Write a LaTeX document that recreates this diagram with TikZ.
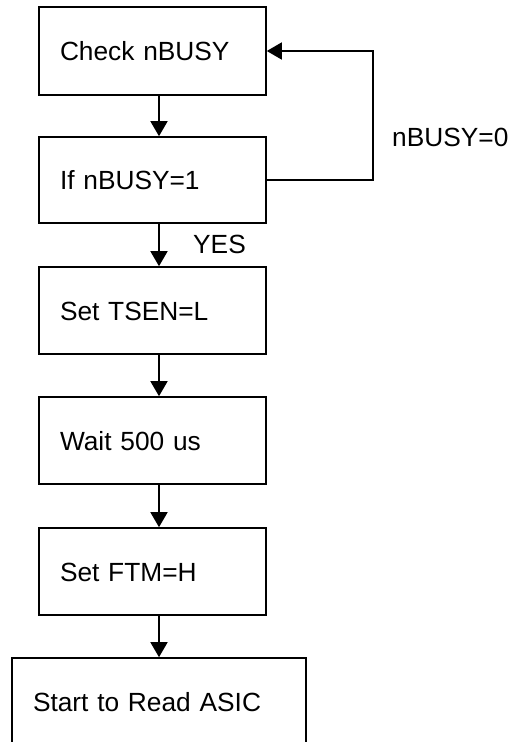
\documentclass[tikz,border=0pt]{standalone}
\usepackage{fontspec}
\setmainfont{Liberation Sans}
\usetikzlibrary{arrows.meta}
\begin{document}
\begin{tikzpicture}[x=1pt,y=-1pt,
  stepbox/.style={draw, line width=1.6pt, text width=185pt, align=left,
    inner xsep=21pt, inner ysep=0pt, minimum width=227pt, minimum height=87pt,
    text height=19pt, text depth=0pt, font=\fontsize{26.3pt}{30pt}\selectfont},
  lbl/.style={anchor=west, inner sep=0pt, text height=19pt, text depth=0pt,
    font=\fontsize{26.3pt}{30pt}\selectfont},
  arr/.style={line width=1.6pt, -{Triangle[width=17pt,length=15pt]}}]
\useasboundingbox (0,0) rectangle (515,742);
\fill[white] (0,0) rectangle (515,742);
\node[stepbox, minimum height=88pt] (b1) at (152.5,51) {Check nBUSY};
\node[stepbox, minimum height=86pt] (b2) at (152.5,180) {If nBUSY=1};
\node[stepbox] (b3) at (152.5,310.5) {Set TSEN=L};
\node[stepbox] (b4) at (152.5,440.5) {Wait 500 us};
\node[stepbox] (b5) at (152.5,571.5) {Set FTM=H};
\node[stepbox, text width=252pt, minimum width=294pt, minimum height=88pt] (b6) at (159,702) {Start to Read ASIC};
\coordinate (lp) at (373,0);
\draw[arr] (b1.south -| b6.north) -- (b2.north -| b6.north);
\draw[arr] (b2.south -| b6.north) -- (b3.north -| b6.north);
\draw[arr] (b3.south -| b6.north) -- (b4.north -| b6.north);
\draw[arr] (b4.south -| b6.north) -- (b5.north -| b6.north);
\draw[arr] (b5.south -| b6.north) -- (b6.north);
\draw[arr] (b2.east) -- (b2.east -| lp) -- (b1.east -| lp) -- (b1.east);
\node[lbl] (l0) at (392,137) {nBUSY=0};
\node[lbl] (ly) at (193,244) {YES};
\end{tikzpicture}
\end{document}
